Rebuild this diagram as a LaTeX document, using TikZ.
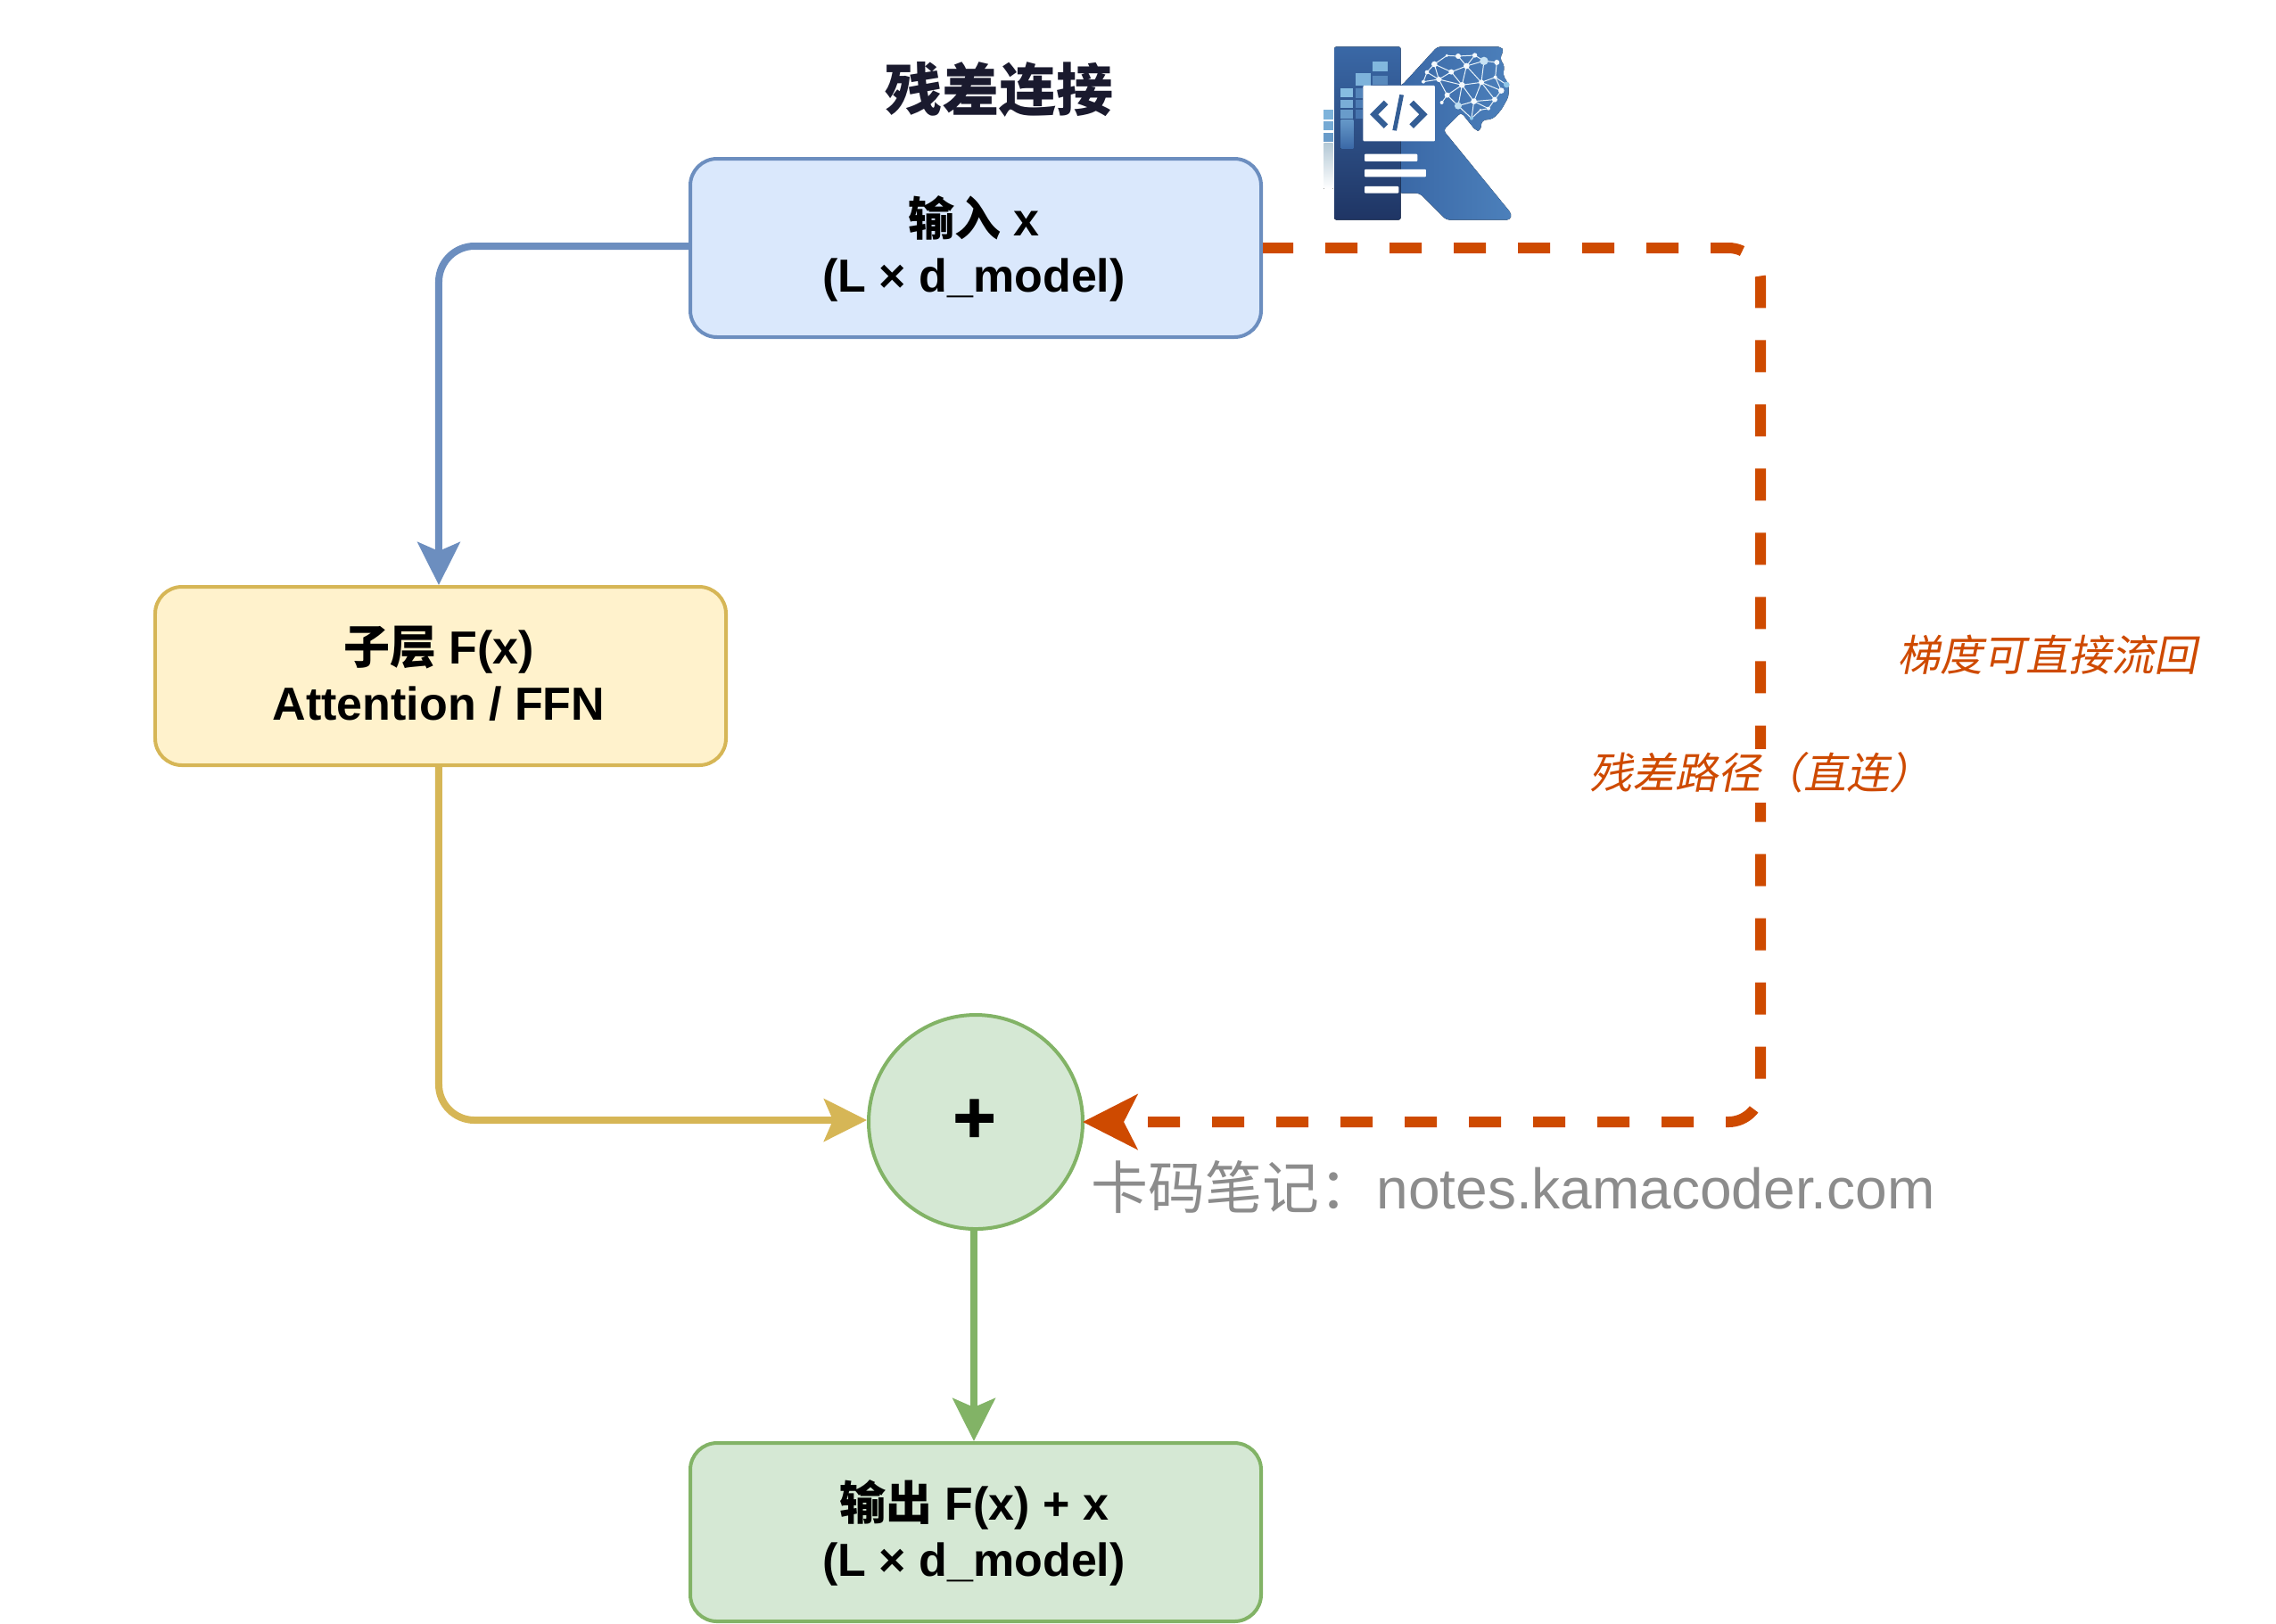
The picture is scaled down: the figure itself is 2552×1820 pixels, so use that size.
\documentclass[tikz,border=0pt]{standalone}
\usepackage{fontspec}
\setmainfont{Liberation Sans}
\newfontfamily\cjk{Noto Sans CJK SC}
\newfontfamily\cjkit[FakeSlant=0.2]{Noto Sans CJK SC}
\newfontfamily\plusfont[FakeBold=1.2]{Liberation Sans Bold}
\usepackage{xcolor}
\usepackage{tikz}
\usetikzlibrary{arrows.meta}
\usetikzlibrary{positioning}
\definecolor{boxblue}{HTML}{DAE8FC}
\definecolor{lineblue}{HTML}{6C8EBF}
\definecolor{boxyellow}{HTML}{FFF2CC}
\definecolor{lineyellow}{HTML}{D6B656}
\definecolor{boxgreen}{HTML}{D5E8D4}
\definecolor{linegreen}{HTML}{82B366}
\definecolor{orangepath}{HTML}{CE4A00}
\definecolor{logodark}{HTML}{1F3564}
\definecolor{logomid}{HTML}{3A68A6}
\definecolor{logolight}{HTML}{4C80BB}
\definecolor{logosky}{HTML}{8FC6E8}
\newcommand{\boxtext}[2]{\rule{0pt}{20pt}#1\hspace*{1.6pt}\\#2\hspace*{1.6pt}\rule[-6pt]{0pt}{0pt}}

\begin{document}
\begin{tikzpicture}[x=0.4pt, y=-0.4pt, node distance=392pt, auto]

\tikzstyle{every node} = [inner sep=0pt]
\tikzstyle{block} = [rectangle, rounded corners=12pt, minimum width=256pt, minimum height=80pt, line width=1.6pt, align=center, font=\fontsize{20.8}{25.2}\selectfont\bfseries]
\tikzstyle{bigtip} = [-{Stealth[length=19.2pt, width=19pt, inset=4pt]}]

\useasboundingbox (0,0) rectangle (2552,1820);

\node (0) at (1120,100) {\fontsize{25.6}{30}\selectfont\cjk\bfseries\color[HTML]{1A1A2E}残差连接};

\node[block, draw=lineblue, fill=boxblue] (1) at (1094,278) {\boxtext{{\cjk\bfseries 输入} x}{(L × d\_model)}};
\node[block, draw=lineyellow, fill=boxyellow] (2) [below of=1, node distance=192pt, xshift=-240pt] {\boxtext{{\cjk\bfseries 子层} F(x)}{Attention / FFN}};
\node[circle, minimum size=96pt, line width=1.6pt, draw=linegreen, fill=boxgreen, font=\fontsize{33}{33}\selectfont] (3) [below of=1] {\raisebox{0.8pt}{\plusfont +}\hspace*{1.2pt}};
\node[block, draw=linegreen, fill=boxgreen] (4) [below of=3, node distance=184pt] {\boxtext{{\cjk\bfseries 输出} F(x) + x}{(L × d\_model)}};

\coordinate (5) at (1974,768);

  \draw[lineblue, line width=3.2pt, rounded corners=16pt, bigtip] ([yshift=0.8pt]1.west) -| ([xshift=-0.8pt]2.north);
  \draw[lineyellow, line width=3.2pt, rounded corners=16pt, bigtip] ([xshift=-0.8pt]2.south) |- ([yshift=0.8pt]3.west);
  \draw[linegreen, line width=3.2pt, bigtip] ([xshift=-0.8pt]3.south) -- ([xshift=-0.8pt]4.north);
  \draw[orangepath, line width=4.8pt, rounded corners=14.4pt, dash pattern=on 14.4pt off 14.4pt, dash phase=0.8pt, -{Stealth[length=24.4pt, width=24.4pt, inset=6pt]}] (1.east) -| (5) |- ([xshift=-0.8pt]3.east);

\node[anchor=base west, text=orangepath, font=\fontsize{19.2}{24}\selectfont] (6) at (2127,752) {\cjkit 梯度可直接流回};
\node[anchor=base west, text=orangepath, fill=white, text height=17.6pt, text depth=6.4pt, font=\fontsize{19.2}{24}\selectfont] (7) at (1782,884) {\cjkit 残差路径（直连）};
\node[anchor=base west, text=black!45, font=\fontsize{25.6}{30}\selectfont] (8) at (1223,1355) {{\cjk 卡码笔记：}notes.kamacoder.com};

% logo
\begin{scope}[shift={(1450,20)}, x=0.1333pt, y=-0.1333pt]
  \fill[left color=logomid, right color=logolight, rounded corners=1.5pt] (365,228) -- (485,97) -- (700,97) -- (708,112) -- (695,135) -- (712,165) -- (705,190) -- (725,225) -- (725,265) -- (700,310) -- (672,340) -- (635,345) -- (630,380) -- (615,380) -- (565,318) -- (505,378) -- (735,660) -- (730,680) -- (515,680) -- (425,590) -- (355,590) -- (355,228) -- cycle;
  \fill[top color=logomid, bottom color=logodark, rounded corners=1pt] (138,97) rectangle (362,680);

  \foreach \a/\b/\c/\d/\shade in {268/147/318/180/85, 268/195/318/225/35, 210/185/262/228/80, 160/238/202/268/90, 160/275/202/303/75, 160/310/202/338/55, 210/238/235/270/30, 210/275/235/303/22, 210/310/235/338/15, 103/310/134/342/80, 103/348/134/378/70, 103/386/134/416/55}
    \fill[logosky!\shade!logomid] (\a,\b) rectangle (\c,\d);
  \fill[top color=logosky!50!logomid, bottom color=logomid] (160,345) rectangle (202,440);
  \fill[top color=black!25!logosky!50, bottom color=white] (103,423) rectangle (134,575);

  \foreach \n/\x/\y in {1/517/127, 2/555/129, 3/611/126, 4/642/145, 5/685/150, 6/475/156, 7/583/162, 8/532/182, 9/450/183, 10/490/207, 11/438/215, 12/568/226, 13/633/217, 14/680/200, 15/718/225, 16/700/245, 17/518/260, 18/608/281, 19/678/275, 20/555/296, 21/500/285, 22/657/305, 23/600/338, 24/630/310}
    \coordinate (b\n) at (\x,\y);
  \foreach \a/\b in {1/6, 1/2, 2/3, 3/4, 4/5, 5/14, 2/7, 3/7, 4/7, 4/13, 7/13, 7/8, 6/8, 6/10, 6/9, 9/10, 9/11, 10/11, 8/10, 8/12, 7/12, 10/12, 10/17, 12/13, 12/17, 12/18, 13/14, 13/16, 13/18, 14/16, 14/15, 16/19, 13/19, 18/19, 18/20, 17/20, 17/21, 12/20, 19/22, 18/22, 22/24, 24/23, 20/23, 18/23}
    \draw[white!80!logosky, line width=0.4pt] (b\a) -- (b\b);
  \foreach \n/\r in {1/5, 2/9, 3/8, 5/9, 6/10, 7/10, 8/9, 9/7, 10/9, 11/6, 12/10, 13/9, 14/6, 16/10, 17/9, 18/10, 19/9, 21/6, 22/6, 24/4}
    \fill[white!90!logosky] (b\n) circle (\r);
  \fill[logosky!50!white] (b4) circle (14);
  \fill[logosky!60!white] (b20) circle (12);
  \fill[logosky] (b15) circle (10);
  \fill[logosky] (b23) circle (6);

  \fill[white, rounded corners=0.4pt] (235,228) rectangle (477,415);
  \draw[logomid!90!black, line width=2.6pt] (312,285) -- (272,325) -- (312,365);
  \draw[logomid!90!black, line width=2.6pt] (398,285) -- (438,325) -- (398,365);
  \fill[logomid!90!black] (358,258) -- (372,260) -- (348,380) -- (334,378) -- cycle;
  \fill[white, rounded corners=0.4pt] (240,458) rectangle (418,483);
  \fill[white, rounded corners=0.4pt] (240,510) rectangle (447,535);
  \fill[white, rounded corners=0.4pt] (240,567) rectangle (355,590);
\end{scope}
\end{tikzpicture}
\end{document}
